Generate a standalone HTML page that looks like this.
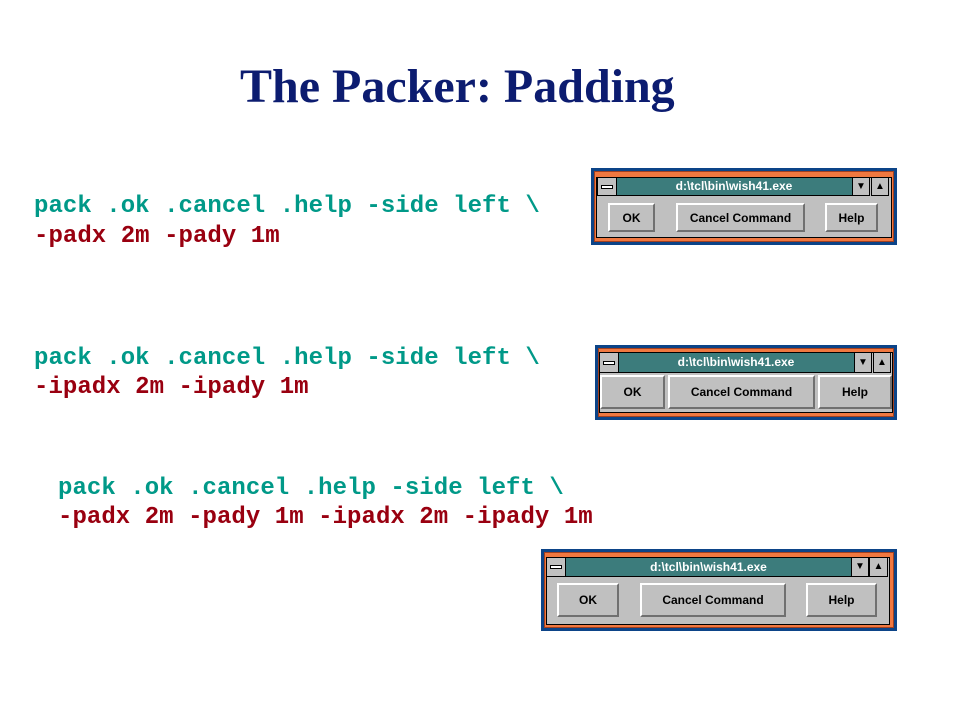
<!DOCTYPE html>
<html><head><style>
body{margin:0;width:959px;height:719px;background:#fff;position:relative;overflow:hidden;font-family:"Liberation Sans",sans-serif}
.t{position:absolute;left:240px;white-space:nowrap;top:59px;font:bold 48px "Liberation Serif",serif;color:#0c1c70;line-height:56px}
.c{position:absolute;font:bold 24px "Liberation Mono",monospace;line-height:30px;white-space:pre;letter-spacing:0.05px}
.g{color:#009988}.r{color:#990010}
.w{position:absolute;background:#0c4488}
.o{position:absolute;left:3px;top:3px;right:3px;bottom:3px;background:#f07840;border:1px solid #a04020;box-sizing:border-box}
.i{position:absolute;background:#c0c0c0;border:1px solid #000}
.tb{position:absolute;background:#3c7c7c;color:#fff;font:bold 12px "Liberation Sans",sans-serif;text-align:center;border-top:1px solid #000;border-bottom:1px solid #000;box-sizing:border-box}
.bx{position:absolute;background:#c0c0c0;border:1px solid #000;box-sizing:border-box;font-size:10px;text-align:center;color:#000}
.b{position:absolute;background:#c0c0c0;border:2px solid;border-color:#fff #707070 #707070 #fff;box-sizing:border-box;font:bold 12px "Liberation Sans",sans-serif;display:flex;align-items:center;justify-content:center;color:#000}
</style></head><body>
<div class="t">The Packer: Padding</div>
<div class="c g" style="left:34px;top:192px">pack .ok .cancel .help -side left \</div>
<div class="c r" style="left:34px;top:222px">-padx 2m -pady 1m</div>
<div class="c g" style="left:34px;top:344px">pack .ok .cancel .help -side left \</div>
<div class="c r" style="left:34px;top:373px">-ipadx 2m -ipady 1m</div>
<div class="c g" style="left:58px;top:474px">pack .ok .cancel .help -side left \</div>
<div class="c r" style="left:58px;top:503px">-padx 2m -pady 1m -ipadx 2m -ipady 1m</div>

<!-- window 1 -->
<div class="w" style="left:591px;top:168px;width:306px;height:77px"><div class="o"></div></div>
<div class="i" style="left:596px;top:177px;width:294px;height:59px"></div>
<div class="tb" style="left:616px;top:177px;width:236px;height:19px;line-height:17px">d:\tcl\bin\wish41.exe</div>
<div class="bx" style="left:597px;top:177px;width:20px;height:19px"><div style="margin:7px 3px 0;height:2px;border:1px solid #000;background:#fff"></div></div>
<div class="bx" style="left:852px;top:177px;width:18px;height:19px;line-height:17px">▼</div>
<div class="bx" style="left:871px;top:177px;width:18px;height:19px;line-height:17px">▲</div>
<div class="b" style="left:608px;top:203px;width:47px;height:29px">OK</div>
<div class="b" style="left:676px;top:203px;width:129px;height:29px">Cancel Command</div>
<div class="b" style="left:825px;top:203px;width:53px;height:29px">Help</div>

<!-- window 2 -->
<div class="w" style="left:595px;top:345px;width:302px;height:75px"><div class="o"></div></div>
<div class="i" style="left:599px;top:352px;width:292px;height:59px"></div>
<div class="tb" style="left:618px;top:352px;width:236px;height:21px;line-height:19px">d:\tcl\bin\wish41.exe</div>
<div class="bx" style="left:599px;top:352px;width:20px;height:21px"><div style="margin:8px 3px 0;height:2px;border:1px solid #000;background:#fff"></div></div>
<div class="bx" style="left:854px;top:352px;width:18px;height:21px;line-height:19px">▼</div>
<div class="bx" style="left:873px;top:352px;width:18px;height:21px;line-height:19px">▲</div>
<div class="b" style="left:600px;top:375px;width:65px;height:34px">OK</div>
<div class="b" style="left:668px;top:375px;width:147px;height:34px">Cancel Command</div>
<div class="b" style="left:818px;top:375px;width:74px;height:34px">Help</div>

<!-- window 3 -->
<div class="w" style="left:541px;top:549px;width:356px;height:82px"><div class="o"></div></div>
<div class="i" style="left:546px;top:557px;width:342px;height:66px"></div>
<div class="tb" style="left:565px;top:557px;width:287px;height:20px;line-height:18px">d:\tcl\bin\wish41.exe</div>
<div class="bx" style="left:546px;top:557px;width:20px;height:20px"><div style="margin:7px 3px 0;height:2px;border:1px solid #000;background:#fff"></div></div>
<div class="bx" style="left:851px;top:557px;width:18px;height:20px;line-height:18px">▼</div>
<div class="bx" style="left:869px;top:557px;width:19px;height:20px;line-height:18px">▲</div>
<div class="b" style="left:557px;top:583px;width:62px;height:34px">OK</div>
<div class="b" style="left:640px;top:583px;width:146px;height:34px">Cancel Command</div>
<div class="b" style="left:806px;top:583px;width:71px;height:34px">Help</div>
</body></html>
